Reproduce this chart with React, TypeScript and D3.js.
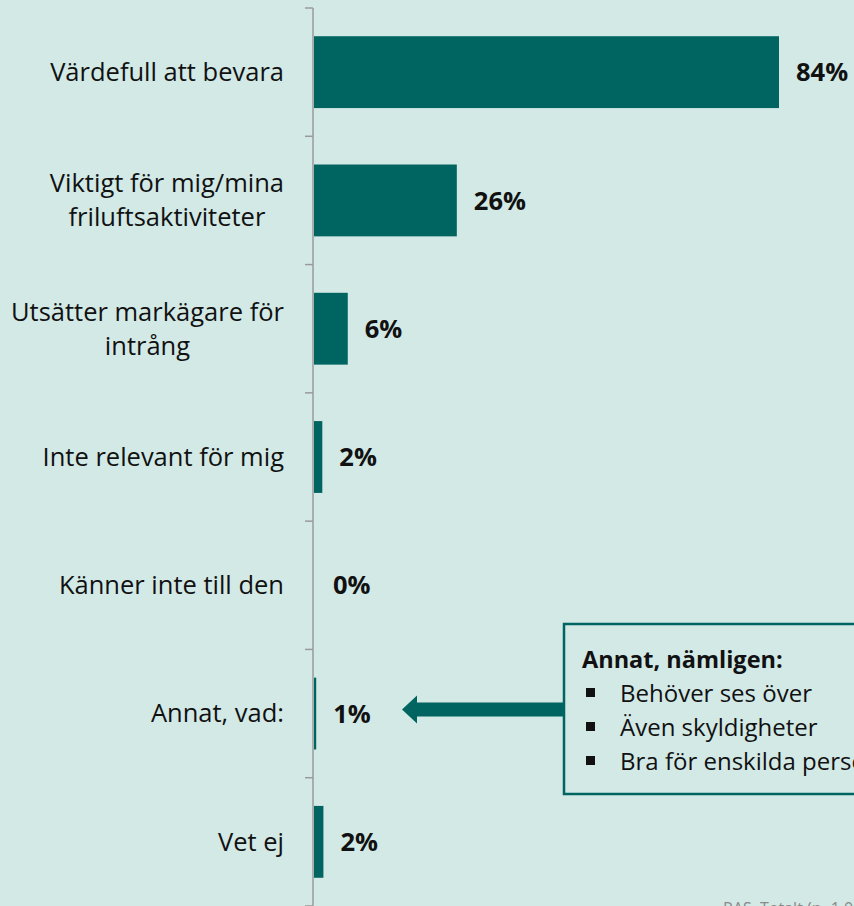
import React from "react";
import * as d3 from "d3";

const categories: string[][] = [
  ["Värdefull att bevara"],
  ["Viktigt för mig/mina", "friluftsaktiviteter"],
  ["Utsätter markägare för", "intrång"],
  ["Inte relevant för mig"],
  ["Känner inte till den"],
  ["Annat, vad:"],
  ["Vet ej"],
];
const values = [84, 25.8, 6.1, 1.5, 0, 0.4, 1.7];
const valueLabels = ["84%", "26%", "6%", "2%", "0%", "1%", "2%"];
const noteTitle = "Annat, nämligen:";
const noteItems = ["Behöver ses över", "Även skyldigheter", "Bra för enskilda personer"];
const sourceText = "RAS, Totalt (n=1 000)";

const W = 854;
const H = 906;
const BG = "#d2e9e6";
const BAR = "#006560";
const FONT = "'Open Sans', sans-serif";

function measure(text: string, font: string): number {
  const c = document.createElement("canvas").getContext("2d");
  if (!c) return text.length * 11;
  c.font = font;
  return c.measureText(text).width;
}

export default function App() {
  const axisX = 313;
  const y = d3
    .scaleBand<number>()
    .domain(d3.range(categories.length))
    .range([8, H])
    .paddingInner(0.44)
    .paddingOuter(0.22);
  const x = d3.scaleLinear().domain([0, 84]).range([axisX + 1, 779]);
  const boundaries = d3.range(categories.length + 1).map((i) => 8 + i * ((H - 8) / categories.length));
  const labelRight = 284;
  const catSize = 25.5;
  const catFont = `${catSize}px ${FONT}`;

  const ay = y(5)! + y.bandwidth() / 2 - 4;
  const tip = 402;
  const headLen = 15;
  const boxX = 564;
  const arrow = d3.path();
  arrow.moveTo(tip, ay);
  arrow.lineTo(tip + headLen, ay - 14);
  arrow.lineTo(tip + headLen, ay - 7);
  arrow.lineTo(boxX, ay - 7);
  arrow.lineTo(boxX, ay + 7);
  arrow.lineTo(tip + headLen, ay + 7);
  arrow.lineTo(tip + headLen, ay + 14);
  arrow.closePath();

  return (
    <div style={{ position: "fixed", left: 0, top: 0, width: W, height: H }}>
      <svg width={W} height={H} style={{ display: "block" }}>
        <rect x={0} y={0} width={W} height={H} fill={BG} />
        {values.map((v, i) => (
          <rect
            key={"b" + i}
            x={x(0)}
            y={y(i)!}
            width={Math.max(0, x(v) - x(0))}
            height={y.bandwidth()}
            fill={BAR}
          />
        ))}
        <line x1={axisX} x2={axisX} y1={boundaries[0]} y2={H} stroke="#9a9a9a" strokeWidth={1.5} />
        {boundaries.map((b, i) => (
          <line key={"t" + i} x1={305} x2={axisX} y1={b} y2={b} stroke="#9a9a9a" strokeWidth={1.5} />
        ))}
        {categories.map((lines, i) => {
          const cy = y(i)! + y.bandwidth() / 2;
          const lh = 34;
          const widths = lines.map((l) => measure(l, catFont));
          const maxW = Math.max(...widths);
          const cx = labelRight - maxW / 2;
          return (
            <text
              key={"c" + i}
              fontFamily={FONT}
              fontSize={catSize}
              fill="#111"
              textAnchor={lines.length > 1 ? "middle" : "end"}
            >
              {lines.map((l, j) => (
                <tspan
                  key={j}
                  x={lines.length > 1 ? cx : labelRight}
                  y={cy + (j - (lines.length - 1) / 2) * lh}
                  dy="0.35em"
                >
                  {l}
                </tspan>
              ))}
            </text>
          );
        })}
        {values.map((v, i) => (
          <text
            key={"v" + i}
            x={Math.max(x(v), x(0) + 2) + 17}
            y={y(i)! + y.bandwidth() / 2}
            dy="0.36em"
            fontFamily={FONT}
            fontWeight="bold"
            fontSize={25.5}
            fill="#111"
          >
            {valueLabels[i]}
          </text>
        ))}
        <path d={arrow.toString()} fill={BAR} />
        <rect x={boxX} y={624} width={320} height={170} fill={BG} stroke={BAR} strokeWidth={2.5} />
        <text x={582} y={668} fontFamily={FONT} fontWeight="bold" fontSize={23.5} fill="#111">
          {noteTitle}
        </text>
        {noteItems.map((t, i) => (
          <g key={"n" + i}>
            <rect x={586} y={688 + i * 34} width={9} height={9} fill="#111" />
            <text x={620} y={702 + i * 34} fontFamily={FONT} fontSize={24} fill="#111">
              {t}
            </text>
          </g>
        ))}
        <text x={723} y={914} fontFamily={FONT} fontSize={16} fill="#8a8a8a">
          {sourceText}
        </text>
      </svg>
    </div>
  );
}
